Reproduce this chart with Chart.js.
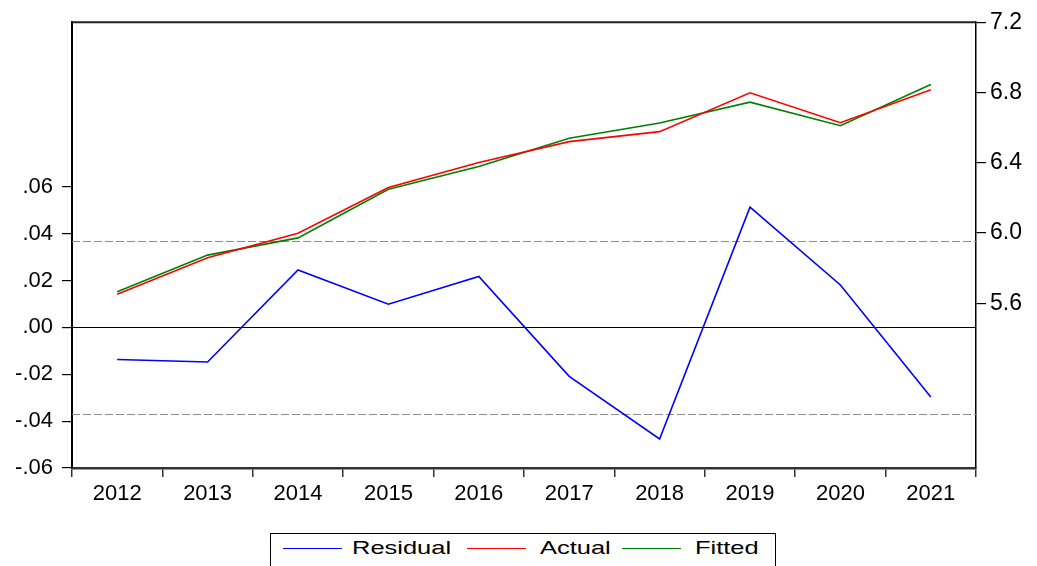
<!DOCTYPE html>
<html>
<head>
<meta charset="utf-8">
<script src="https://cdn.jsdelivr.net/npm/chart.js@4/dist/chart.umd.min.js"></script>
<style>
  html, body { margin:0; padding:0; background:#fff; overflow:hidden; }
  #wrap { position:relative; width:1037px; height:566px; }
  canvas { position:absolute; left:0; top:0; }
  #legend { position:absolute; left:270px; top:533px; width:506px; height:44px; border:1px solid #000; box-sizing:border-box; background:#fff; }
  .swatch { position:absolute; top:14px; height:0; border-top:1.5px solid; }
  .lab { position:absolute; top:3px; font-family:"Liberation Sans", Arial, sans-serif; font-size:19px; color:#000; transform:scaleX(1.34); transform-origin:left center; white-space:nowrap; }
</style>
</head>
<body>
<div id="wrap">
  <canvas id="c" width="1037" height="566"></canvas>
  <div id="legend"></div>
</div>
<script>
// ---- data ----
const years = ['2012','2013','2014','2015','2016','2017','2018','2019','2020','2021'];
const residual = [-0.0137, -0.0148, 0.0245, 0.0099, 0.0217, -0.0209, -0.0476, 0.0513, 0.0181, -0.0297];
const actual   = [5.651, 5.859, 5.999, 6.259, 6.401, 6.520, 6.577, 6.798, 6.628, 6.815];
const fitted   = [5.666, 5.874, 5.972, 6.249, 6.378, 6.539, 6.626, 6.745, 6.611, 6.845];
const leftTicks  = [-0.06, -0.04, -0.02, 0.00, 0.02, 0.04, 0.06];
const rightTicks = [5.6, 6.0, 6.4, 6.8, 7.2];
const leftRange  = [-0.06, 0.1302];
const rightRange = [4.662, 7.2];
const residualSE = 0.0368;
const seriesNames  = ['Residual', 'Actual', 'Fitted'];
const seriesColors = ['#0000FF', '#FF0000', '#008000'];

const FONT = { family: '"Liberation Sans", Arial, sans-serif', size: 22 };
const FONT_R = { family: '"Liberation Sans", Arial, sans-serif', size: 23 };

const refLines = {
  id: 'refLines',
  beforeDatasetsDraw(chart) {
    const { ctx, chartArea: a } = chart;
    const y = chart.scales.y;
    ctx.save();
    ctx.lineWidth = 1.2;
    ctx.strokeStyle = '#8c8c8c';
    ctx.setLineDash([8, 3]);
    [residualSE, -residualSE].forEach(v => {
      const py = Math.round(y.getPixelForValue(v)) + 0.5;
      ctx.beginPath(); ctx.moveTo(a.left, py); ctx.lineTo(a.right, py); ctx.stroke();
    });
    ctx.setLineDash([]);
    ctx.strokeStyle = '#000';
    ctx.lineWidth = 1.2;
    const pz = Math.round(y.getPixelForValue(0)) + 0.5;
    ctx.beginPath(); ctx.moveTo(a.left, pz); ctx.lineTo(a.right, pz); ctx.stroke();
    ctx.restore();
  },
  afterDraw(chart) {
    const { ctx, chartArea: a } = chart;
    ctx.save();
    ctx.strokeStyle = '#222';
    ctx.lineWidth = 2;
    ctx.beginPath(); ctx.moveTo(a.left, a.top); ctx.lineTo(a.right, a.top); ctx.stroke();
    ctx.restore();
  }
};

const fmtLeft = v => (v < 0 ? '-' : '') + Math.abs(v).toFixed(2).replace(/^0/, '');

new Chart(document.getElementById('c'), {
  type: 'line',
  data: {
    labels: years,
    datasets: [
      { label: seriesNames[0], data: residual, yAxisID: 'y',  borderColor: seriesColors[0] },
      { label: seriesNames[1], data: actual,   yAxisID: 'y1', borderColor: seriesColors[1] },
      { label: seriesNames[2], data: fitted,   yAxisID: 'y1', borderColor: seriesColors[2] }
    ]
  },
  options: {
    responsive: false,
    animation: false,
    devicePixelRatio: 1,
    layout: { padding: { top: 20, bottom: 64, left: 0, right: 0 } },
    elements: { line: { borderWidth: 1.6, tension: 0 }, point: { radius: 0 } },
    plugins: { legend: { display: false }, tooltip: { enabled: false }, title: { display: false } },
    scales: {
      x: {
        type: 'category',
        offset: true,
        grid: { offset: true, drawOnChartArea: false, drawTicks: true, tickLength: 9, color: '#333', tickColor: '#333', lineWidth: 1.5 },
        border: { display: true, color: '#333', width: 2.5 },
        ticks: { color: '#000', font: FONT, padding: 4, maxRotation: 0, autoSkip: false },
        afterFit(s) { s.height = 34; }
      },
      y: {
        position: 'left',
        min: leftRange[0], max: leftRange[1],
        afterBuildTicks(s) { s.ticks = leftTicks.map(v => ({ value: v })); },
        grid: { drawOnChartArea: false, drawTicks: true, tickLength: 10, tickColor: '#000', lineWidth: 1.2 },
        border: { display: true, color: '#000', width: 2 },
        ticks: { color: '#000', font: FONT, padding: 9, callback: v => fmtLeft(v) },
        afterFit(s) { s.width = 72; }
      },
      y1: {
        position: 'right',
        min: rightRange[0], max: rightRange[1],
        afterBuildTicks(s) { s.ticks = rightTicks.map(v => ({ value: v })); },
        grid: { drawOnChartArea: false, drawTicks: true, tickLength: 10, tickColor: '#000', lineWidth: 1.2 },
        border: { display: true, color: '#000', width: 1.5 },
        ticks: { color: '#000', font: FONT_R, padding: 4, callback: v => Number(v).toFixed(1) },
        afterFit(s) { s.width = 61; }
      }
    }
  },
  plugins: [refLines]
});

// HTML legend built from series arrays
const legend = document.getElementById('legend');
const swatchX = [12, 196, 351];
const textX = [81, 269, 424];
seriesNames.forEach((name, i) => {
  const sw = document.createElement('div');
  sw.className = 'swatch';
  sw.style.left = swatchX[i] + 'px';
  sw.style.width = '59px';
  sw.style.borderTopColor = seriesColors[i];
  legend.appendChild(sw);
  const t = document.createElement('div');
  t.className = 'lab';
  t.style.left = textX[i] + 'px';
  t.textContent = name;
  legend.appendChild(t);
});
</script>
</body>
</html>
